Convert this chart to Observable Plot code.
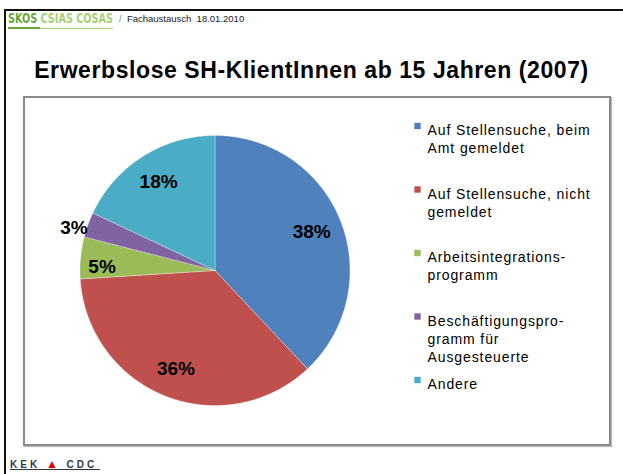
<!DOCTYPE html>
<html><head><meta charset="utf-8">
<script src="https://cdn.jsdelivr.net/npm/d3@7"></script>
<script src="https://cdn.jsdelivr.net/npm/@observablehq/plot@0.6"></script>
<style>
  body{margin:0;background:#fff;font-family:"Liberation Sans",Arial,sans-serif;}
  #wrap{position:relative;width:623px;height:474px;overflow:hidden;background:#fff;}
  .abs{position:absolute;white-space:nowrap;line-height:0;}
  #chart svg{position:absolute;left:0;top:0;z-index:2;}
</style>
</head><body>
<div id="wrap">
  <div class="abs" style="left:4px;top:9px;width:619px;height:2px;background:#111;"></div>
  <div class="abs" style="left:4px;top:9px;width:2px;height:470px;background:#111;"></div>
  <div class="abs" id="hdr" style="left:8px;top:18.3px;font-family:'DejaVu Sans Condensed','Liberation Sans Narrow',sans-serif;font-size:14px;font-weight:bold;transform-origin:0 0;">
    <span style="color:#6aa83a;">SKOS</span><span style="color:#a9cf7a;"> CSIAS COSAS</span>
  </div>
  <div class="abs" style="left:8px;top:27px;width:32px;height:2px;background:#6aa83a;"></div>
  <div class="abs" style="left:40px;top:27.5px;width:73px;height:1px;background:#a9cf7a;"></div>
  <div class="abs" style="left:119px;top:19.2px;font-size:9.5px;color:#222;"><span style="color:#888">/</span>&nbsp;&nbsp;Fachaustausch&nbsp;&nbsp;18.01.2010</div>
  <div class="abs" id="title" style="left:0;top:70px;width:623px;text-align:center;font-size:23px;font-weight:bold;color:#000;"><span id="titleSpan"></span></div>
  <div class="abs" style="left:23px;top:96px;width:584px;height:346px;border:2px solid #8a8a8a;box-shadow:1px 1px 1px rgba(0,0,0,0.25);z-index:1;"></div>
  <div class="abs" style="left:10px;top:463.5px;font-size:10px;font-weight:bold;color:#2a3a4a;letter-spacing:3px;">KEK <span style="color:#e00000;font-size:12px;">▲</span> CDC</div>
  <div class="abs" style="left:10px;top:469px;width:90px;height:1px;background:#333;"></div>
  <div id="chart"></div>
</div>
<script>
// ---- data ----
const categories = [
  "Auf Stellensuche, beim Amt gemeldet",
  "Auf Stellensuche, nicht gemeldet",
  "Arbeitsintegrationsprogramm",
  "Beschäftigungsprogramm für Ausgesteuerte",
  "Andere"
];
const legendLabels = [
  "Auf Stellensuche, beim\nAmt gemeldet",
  "Auf Stellensuche, nicht\ngemeldet",
  "Arbeitsintegrations-\nprogramm",
  "Beschäftigungspro-\ngramm für\nAusgesteuerte",
  "Andere"
];
const values = [38, 36, 5, 3, 18];
const colors = ["#4F81BD", "#C0504D", "#9BBB59", "#8064A2", "#4BACC6"];
const titleText = "Erwerbslose SH-KlientInnen ab 15 Jahren (2007)";

// ---- layout ----
const W = 623, H = 474;
const cx = 214.5, cy = 270, R = 135;
const labelRadius = [0.77, 0.785, 0.84, 1.11, 0.78];
const labelShiftY = [0, 0, 7, 8, 0];
const legendX = 427, legendTop = 122, legendStep = 63.5;

const table = categories.map((name, i) => ({name, value: values[i], i}));
const arcs = d3.pie().sort(null).value(d => d.value)(table);

const polys = [];
arcs.forEach(a => {
  const n = Math.max(4, Math.ceil((a.endAngle - a.startAngle) / 0.01));
  polys.push({name: a.data.name, x: cx, y: cy});
  for (let k = 0; k <= n; k++) {
    const t = a.startAngle + (a.endAngle - a.startAngle) * k / n;
    polys.push({name: a.data.name, x: cx + R * Math.sin(t), y: cy - R * Math.cos(t)});
  }
  polys.push({name: a.data.name, x: cx, y: cy});
});

const total = d3.sum(values);
const labels = arcs.map(a => {
  const t = (a.startAngle + a.endAngle) / 2;
  const r = R * labelRadius[a.data.i];
  return {
    text: Math.round(a.data.value / total * 100) + "%",
    x: cx + r * Math.sin(t),
    y: cy - r * Math.cos(t) + labelShiftY[a.data.i]
  };
});

const legend = table.map(d => ({
  name: d.name,
  label: legendLabels[d.i],
  x: legendX,
  y: legendTop + d.i * legendStep
}));

const plot = Plot.plot({
  width: W, height: H, margin: 0,
  x: {type: "identity", axis: null},
  y: {type: "identity", axis: null},
  color: {domain: categories, range: colors},
  style: {background: "transparent", fontFamily: "'Liberation Sans', Arial, sans-serif"},
  marks: [
    Plot.line(polys, {x: "x", y: "y", z: "name", fill: "name", stroke: "#ffffff", strokeWidth: 0.5, strokeOpacity: 0.6, curve: "linear"}),
    Plot.text(labels, {x: "x", y: "y", text: "text", fontSize: 19, fontWeight: "bold", fill: "#000"}),
    Plot.dot(legend, {x: d => d.x - 10, y: d => d.y + 3.5, symbol: "square", r: 3.6, fill: "name", stroke: null}),
    Plot.text(legend, {x: "x", y: "y", text: "label", textAnchor: "start", lineAnchor: "top", fontSize: 14, lineHeight: 18 / 14, fill: "#000"})
  ]
});
document.getElementById("chart").appendChild(plot);
// the legend text mark is the one anchored at start
d3.select(plot).selectAll('g[text-anchor="start"]').attr("letter-spacing", 0.9)
  .selectAll("text, tspan").attr("letter-spacing", 0.9);

// title, fitted to the reference width
const ts = document.getElementById("titleSpan");
ts.textContent = titleText;
const w0 = ts.getBoundingClientRect().width;
ts.style.letterSpacing = ((554 - w0) / (titleText.length - 1)) + "px";

// header condensed to the reference width
const hdr = document.getElementById("hdr");
const hw = hdr.getBoundingClientRect().width;
hdr.style.transform = `scaleX(${105 / hw})`;
</script>
</body></html>
